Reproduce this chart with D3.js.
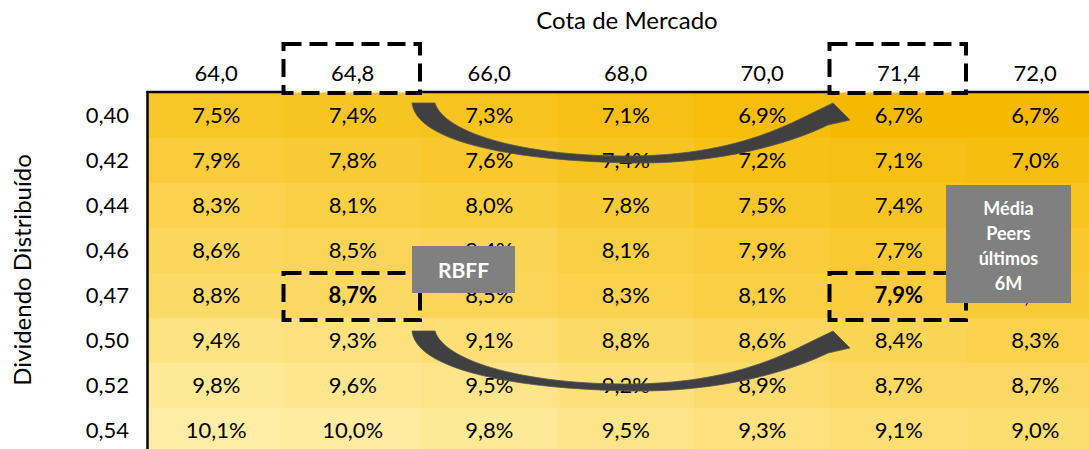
<!DOCTYPE html>
<html>
<head>
<meta charset="utf-8">
<script src="https://cdn.jsdelivr.net/npm/d3@7"></script>
<style>
  body { margin: 0; background: #fff; }
  svg { display: block; font-family: Lato, "Open Sans", sans-serif; }
</style>
</head>
<body>
<script>
var width = 1089;
var height = 449;

// dados
var colLabels = ["64,0", "64,8", "66,0", "68,0", "70,0", "71,4", "72,0"];
var rowLabels = ["0,40", "0,42", "0,44", "0,46", "0,47", "0,50", "0,52", "0,54"];
var values = [
  [7.5, 7.4, 7.3, 7.1, 6.9, 6.7, 6.7],
  [7.9, 7.8, 7.6, 7.4, 7.2, 7.1, 7.0],
  [8.3, 8.1, 8.0, 7.8, 7.5, 7.4, 7.3],
  [8.6, 8.5, 8.4, 8.1, 7.9, 7.7, 7.6],
  [8.8, 8.7, 8.5, 8.3, 8.1, 7.9, 7.8],
  [9.4, 9.3, 9.1, 8.8, 8.6, 8.4, 8.3],
  [9.8, 9.6, 9.5, 9.2, 8.9, 8.7, 8.7],
  [10.1, 10.0, 9.8, 9.5, 9.3, 9.1, 9.0]
];
var highlightCols = ["64,8", "71,4"];
var highlightRow = "0,47";

var svg = d3.select("body")
  .append("svg")
  .attr("width", width)
  .attr("height", height);

var x = d3.scaleBand().domain(colLabels).range([148, 148 + 136.5 * 7]);
var y = d3.scaleBand().domain(rowLabels).range([93, 93 + 45 * 8]);

var color = d3.scaleLinear()
  .domain([d3.min(values, function(r) { return d3.min(r); }), d3.max(values, function(r) { return d3.max(r); })])
  .range(["#f5ba00", "#ffeda6"]);

var cells = [];
values.forEach(function(r, i) {
  r.forEach(function(v, j) {
    cells.push({ row: rowLabels[i], col: colLabels[j], v: v });
  });
});

var fmt = function(v) { return d3.format(".1f")(v).replace(".", ",") + "%"; };

svg.append("g").selectAll("rect")
  .data(cells)
  .enter()
  .append("rect")
  .attr("x", function(d) { return x(d.col); })
  .attr("y", function(d) { return y(d.row); })
  .attr("width", x.bandwidth() + 0.5)
  .attr("height", y.bandwidth() + 0.5)
  .attr("fill", function(d) { return color(d.v); });

svg.append("g").selectAll("text")
  .data(cells)
  .enter()
  .append("text")
  .attr("x", function(d) { return x(d.col) + x.bandwidth() / 2; })
  .attr("y", function(d) { return y(d.row) + y.bandwidth() / 2; })
  .attr("dy", "0.36em")
  .attr("text-anchor", "middle")
  .attr("font-size", 22)
  .attr("font-weight", function(d) {
    return (d.row === highlightRow && highlightCols.indexOf(d.col) >= 0) ? "bold" : "normal";
  })
  .attr("fill", "#000")
  .text(function(d) { return fmt(d.v); });

// cabeçalho das colunas
svg.append("g").selectAll("text")
  .data(colLabels)
  .enter()
  .append("text")
  .attr("x", function(d) { return x(d) + x.bandwidth() / 2; })
  .attr("y", 73)
  .attr("dy", "0.36em")
  .attr("text-anchor", "middle")
  .attr("font-size", 22)
  .text(function(d) { return d; });

// rótulos das linhas
svg.append("g").selectAll("text")
  .data(rowLabels)
  .enter()
  .append("text")
  .attr("x", 129)
  .attr("y", function(d) { return y(d) + y.bandwidth() / 2; })
  .attr("dy", "0.36em")
  .attr("text-anchor", "end")
  .attr("font-size", 22)
  .text(function(d) { return d; });

svg.append("text")
  .attr("x", 627)
  .attr("y", 20)
  .attr("dy", "0.36em")
  .attr("text-anchor", "middle")
  .attr("font-size", 24)
  .text("Cota de Mercado");

svg.append("text")
  .attr("transform", "translate(22,270) rotate(-90)")
  .attr("dy", "0.36em")
  .attr("text-anchor", "middle")
  .attr("font-size", 24)
  .text("Dividendo Distribuído");

// linhas de borda
svg.append("line")
  .attr("x1", 146.5).attr("x2", width)
  .attr("y1", 92).attr("y2", 92)
  .attr("stroke", "#000").attr("stroke-width", 2.5);
svg.append("line")
  .attr("x1", 147.5).attr("x2", 147.5)
  .attr("y1", 91).attr("y2", height)
  .attr("stroke", "#000").attr("stroke-width", 2.5);

// caixas tracejadas
var boxes = [];
highlightCols.forEach(function(c) {
  boxes.push({ x: x(c) - 1, y: 44, w: x.bandwidth(), h: 49 });
  boxes.push({ x: x(c) - 1, y: y(highlightRow), w: x.bandwidth(), h: y.bandwidth() + 2 });
});
// apaga a linha de borda sob as caixas do cabeçalho
highlightCols.forEach(function(c) {
  svg.append("rect")
    .attr("x", x(c) + 1).attr("y", 89)
    .attr("width", x.bandwidth() - 4).attr("height", 6)
    .attr("fill", function() { return color(values[0][colLabels.indexOf(c)]); });
  svg.append("rect")
    .attr("x", x(c) + 1).attr("y", 89)
    .attr("width", x.bandwidth() - 4).attr("height", 3.5)
    .attr("fill", "#fff");
});
svg.append("g").selectAll("rect")
  .data(boxes)
  .enter()
  .append("rect")
  .attr("x", function(d) { return d.x; })
  .attr("y", function(d) { return d.y; })
  .attr("width", function(d) { return d.w; })
  .attr("height", function(d) { return d.h; })
  .attr("fill", "none")
  .attr("stroke", "#000")
  .attr("stroke-width", 4)
  .attr("stroke-dasharray", "18,8");

// setas curvas
function arrowPath(ox, oy) {
  var p = function(a, b) { return (ox + a) + "," + (oy + b); };
  return "M" + p(-9, 0) +
    " C" + p(-5, 38) + " " + p(90, 58) + " " + p(212, 60) +
    " C" + p(300, 61) + " " + p(370, 40) + " " + p(407, 22) +
    " L" + p(429, 17) + " L" + p(412, 0) + " L" + p(379, 16) +
    " C" + p(340, 35) + " " + p(290, 52) + " " + p(212, 53) +
    " C" + p(110, 54) + " " + p(24, 32) + " " + p(14, 0) + " Z";
}
var arrowRows = ["0,40", "0,50"];
svg.append("g").selectAll("path")
  .data(arrowRows)
  .enter()
  .append("path")
  .attr("d", function(d) {
    return arrowPath(x("64,8") + x.bandwidth(), y(d) + (d === "0,40" ? 10 : 13));
  })
  .attr("fill", "#404040")
  .attr("stroke", "#555")
  .attr("stroke-width", 0.8);

// caixas cinza
svg.append("rect")
  .attr("x", 412).attr("y", 246)
  .attr("width", 103).attr("height", 47)
  .attr("fill", "#808080");
svg.append("text")
  .attr("x", 463.5).attr("y", 270)
  .attr("dy", "0.36em")
  .attr("text-anchor", "middle")
  .attr("font-size", 21)
  .attr("font-weight", "bold")
  .attr("fill", "#fff")
  .text("RBFF");

svg.append("rect")
  .attr("x", 946).attr("y", 185)
  .attr("width", 125).attr("height", 118)
  .attr("fill", "#808080");
var peerLines = ["Média", "Peers", "últimos", "6M"];
svg.append("g").selectAll("text")
  .data(peerLines)
  .enter()
  .append("text")
  .attr("x", 1008.5)
  .attr("y", function(d, i) { return 209 + i * 25; })
  .attr("dy", "0.36em")
  .attr("text-anchor", "middle")
  .attr("font-size", 18)
  .attr("font-weight", "bold")
  .attr("fill", "#fff")
  .text(function(d) { return d; });
</script>
</body>
</html>
